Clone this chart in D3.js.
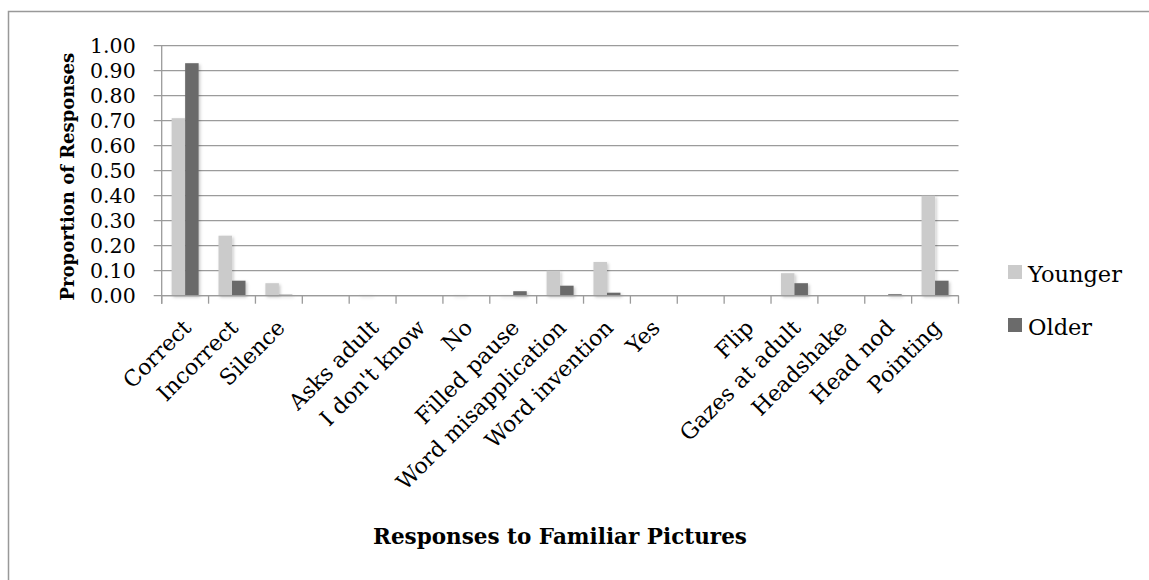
<!DOCTYPE html>
<html>
<head>
<meta charset="utf-8">
<script src="https://cdn.jsdelivr.net/npm/d3@7/dist/d3.min.js"></script>
<style>
  html, body { margin: 0; padding: 0; background: #fff; }
  svg { display: block; }
  text { font-family: "DejaVu Serif", "Liberation Serif", serif; fill: #000; }
</style>
</head>
<body>
<svg id="chart" width="1149" height="580"></svg>
<script>
// Response categories (blank entries are empty slots on the axis)
const categories = [
  "Correct", "Incorrect", "Silence", "", "Asks adult", "I don't know", "No",
  "Filled pause", "Word misapplication", "Word invention", "Yes", "", "Flip",
  "Gazes at adult", "Headshake", "Head nod", "Pointing"
];
const younger = [0.71, 0.24, 0.05, 0, 0.003, 0, 0.003, 0.003, 0.10, 0.135, 0, 0, 0, 0.09, 0, 0, 0.40];
const older   = [0.93, 0.06, 0.004, 0, 0, 0, 0, 0.018, 0.04, 0.012, 0, 0, 0, 0.05, 0, 0.006, 0.06];
const seriesNames = ["Younger", "Older"];
const seriesColors = ["#cbcbcb", "#6b6b6b"];
const yTicks = [0, 0.1, 0.2, 0.3, 0.4, 0.5, 0.6, 0.7, 0.8, 0.9, 1.0];

const svg = d3.select("#chart");

// outer chart frame (open on the right and bottom)
svg.append("path")
  .attr("d", "M8.5,580 L8.5,11.5 L1149,11.5")
  .attr("fill", "none").attr("stroke", "#999").attr("stroke-width", 1.5);

const plot = { left: 161.7, right: 958.5, top: 45.7, bottom: 295.7 };

const x = d3.scaleBand()
  .domain(d3.range(categories.length))
  .range([plot.left, plot.right])
  .paddingInner(0).paddingOuter(0);

const y = d3.scaleLinear().domain([0, 1]).range([plot.bottom, plot.top]);

const defs = svg.append("defs");
const shadow = defs.append("filter").attr("id", "barShadow")
  .attr("x", "-50%").attr("y", "-10%").attr("width", "200%").attr("height", "130%");
shadow.append("feDropShadow")
  .attr("dx", 1.5).attr("dy", 1.5).attr("stdDeviation", 1.8)
  .attr("flood-color", "#000").attr("flood-opacity", 0.22);

// horizontal gridlines, extending left past the axis as tick marks
svg.append("g")
  .selectAll("line")
  .data(yTicks)
  .join("line")
  .attr("x1", plot.left - 8).attr("x2", plot.right)
  .attr("y1", d => y(d)).attr("y2", d => y(d))
  .attr("stroke", "#9b9b9b").attr("stroke-width", 1.3);

// y axis labels
const yAxis = d3.axisLeft(y).tickValues(yTicks).tickFormat(d3.format(".2f")).tickSize(0).tickPadding(26);
const yg = svg.append("g").attr("transform", `translate(${plot.left},0)`).call(yAxis);
yg.select(".domain").remove();
yg.selectAll("text").attr("font-family", "DejaVu Serif").attr("font-size", 20.5).attr("fill", "#000");

// vertical axis line
svg.append("line")
  .attr("x1", plot.left).attr("x2", plot.left)
  .attr("y1", plot.top).attr("y2", plot.bottom + 8)
  .attr("stroke", "#9b9b9b").attr("stroke-width", 1.3);

// category tick marks at slot boundaries
const boundaries = d3.range(categories.length + 1).map(i => plot.left + i * x.step());
svg.append("g").selectAll("line")
  .data(boundaries)
  .join("line")
  .attr("x1", d => d).attr("x2", d => d)
  .attr("y1", plot.bottom).attr("y2", plot.bottom + 8)
  .attr("stroke", "#9b9b9b").attr("stroke-width", 1.3);

// grouped bars
const x1 = d3.scaleBand().domain([0, 1]).range([0, 27]);
const groupOffset = (x.bandwidth() - 27) / 2;
const seriesData = [younger, older];
const barsG = svg.append("g").attr("filter", "url(#barShadow)");
seriesData.forEach((vals, s) => {
  barsG.selectAll(`rect.s${s}`)
    .data(vals)
    .join("rect")
    .attr("class", `s${s}`)
    .attr("x", (d, i) => x(i) + groupOffset + x1(s))
    .attr("width", x1.bandwidth())
    .attr("y", d => y(d))
    .attr("height", d => plot.bottom - y(d))
    .attr("fill", seriesColors[s]);
});

// baseline drawn over bars
svg.append("line")
  .attr("x1", plot.left).attr("x2", plot.right)
  .attr("y1", plot.bottom).attr("y2", plot.bottom)
  .attr("stroke", "#9b9b9b").attr("stroke-width", 1.3);

// rotated category labels
svg.append("g").selectAll("text")
  .data(categories)
  .join("text")
  .attr("transform", (d, i) => `translate(${x(i) + x.bandwidth() / 2 + 2},${plot.bottom + 28}) rotate(-45)`)
  .attr("text-anchor", "end")
  .attr("dy", "0.35em")
  .attr("font-size", 22)
  .text(d => d);

// axis titles
svg.append("text")
  .attr("transform", `translate(74,${(plot.top + plot.bottom) / 2 + 6}) rotate(-90)`)
  .attr("text-anchor", "middle")
  .attr("font-weight", "bold")
  .attr("font-size", 18)
  .text("Proportion of Responses");

svg.append("text")
  .attr("x", 560).attr("y", 544)
  .attr("text-anchor", "middle")
  .attr("font-weight", "bold")
  .attr("font-size", 21.5)
  .text("Responses to Familiar Pictures");

// legend
const legend = svg.append("g").attr("transform", "translate(1008,265)");
seriesNames.forEach((name, i) => {
  const g = legend.append("g").attr("transform", `translate(0,${i * 53})`);
  g.append("rect").attr("width", 14).attr("height", 14).attr("fill", seriesColors[i]);
  g.append("text").attr("x", 20).attr("y", 17).attr("font-size", 22.5).text(name);
});
</script>
</body>
</html>
